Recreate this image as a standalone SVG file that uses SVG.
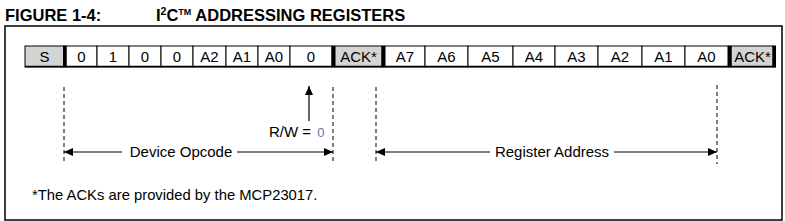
<svg xmlns="http://www.w3.org/2000/svg" width="785" height="221" viewBox="0 0 785 221">
<style>
text{font-family:"Liberation Sans",Arial,sans-serif;fill:#000}
.c{font-size:15px;text-anchor:middle}
.cell{fill:#fff;stroke:#000;stroke-width:1}
.sh{fill:#d4d4d4;stroke:#000;stroke-width:1}
.thick{fill:#000}
.dash{stroke:#000;stroke-width:1;stroke-dasharray:4 3;fill:none}
.ln{stroke:#000;stroke-width:1.2;fill:none}
.lbl{font-size:15px}
.tt{font-size:16.5px;font-weight:bold}
</style>
<defs>
<marker id="ah" markerWidth="9" markerHeight="8" refX="9" refY="4" orient="auto-start-reverse" markerUnits="userSpaceOnUse">
<path d="M0,0 L9,4 L0,8 Z" fill="#000"/>
</marker>
</defs>
<rect width="785" height="221" fill="#fff"/>
<g id="title">
<text x="5" y="21" class="tt">FIGURE 1-4:</text>
<text x="156" y="21" class="tt">I<tspan dy="-6" style="font-size:10.5px">2</tspan><tspan dy="6">C</tspan><tspan dy="-6" style="font-size:9px">TM</tspan><tspan dy="6"> ADDRESSING REGISTERS</tspan></text>
</g>
<rect id="frame" x="5" y="26" width="777" height="194" fill="none" stroke="#000" stroke-width="1.5"/>
<g id="register">
<g id="cell-S"><rect class="sh" x="25" y="46" width="39" height="21"/><text class="c" x="44.5" y="62">S</text></g>
<g id="cell-b7"><rect class="cell" x="66" y="46" width="31" height="21"/><text class="c" x="81.5" y="62">0</text></g>
<g id="cell-b6"><rect class="cell" x="97" y="46" width="32" height="21"/><text class="c" x="113" y="62">1</text></g>
<g id="cell-b5"><rect class="cell" x="129" y="46" width="32" height="21"/><text class="c" x="145" y="62">0</text></g>
<g id="cell-b4"><rect class="cell" x="161" y="46" width="32" height="21"/><text class="c" x="177" y="62">0</text></g>
<g id="cell-dA2"><rect class="cell" x="193" y="46" width="33" height="21"/><text class="c" x="209.5" y="62">A2</text></g>
<g id="cell-dA1"><rect class="cell" x="226" y="46" width="32" height="21"/><text class="c" x="242" y="62">A1</text></g>
<g id="cell-dA0"><rect class="cell" x="258" y="46" width="32" height="21"/><text class="c" x="274" y="62">A0</text></g>
<g id="cell-rw"><rect class="cell" x="290" y="46" width="42" height="21"/><text class="c" x="311" y="62">0</text></g>
<g id="cell-ack1"><rect class="sh" x="335" y="46" width="47" height="21"/><text class="c" x="358.5" y="62">ACK*</text></g>
<g id="cell-A7"><rect class="cell" x="385" y="46" width="40" height="21"/><text class="c" x="405" y="62">A7</text></g>
<g id="cell-A6"><rect class="cell" x="425" y="46" width="43" height="21"/><text class="c" x="446.5" y="62">A6</text></g>
<g id="cell-A5"><rect class="cell" x="468" y="46" width="45" height="21"/><text class="c" x="490.5" y="62">A5</text></g>
<g id="cell-A4"><rect class="cell" x="513" y="46" width="42" height="21"/><text class="c" x="534" y="62">A4</text></g>
<g id="cell-A3"><rect class="cell" x="555" y="46" width="43" height="21"/><text class="c" x="576.5" y="62">A3</text></g>
<g id="cell-A2"><rect class="cell" x="598" y="46" width="44" height="21"/><text class="c" x="620" y="62">A2</text></g>
<g id="cell-A1"><rect class="cell" x="642" y="46" width="43" height="21"/><text class="c" x="663.5" y="62">A1</text></g>
<g id="cell-A0"><rect class="cell" x="685" y="46" width="43" height="21"/><text class="c" x="706.5" y="62">A0</text></g>
<g id="cell-ack2"><rect class="sh" x="731" y="46" width="42" height="21"/><text class="c" x="752.5" y="62">ACK*</text></g>
<rect class="thick" x="63" y="45.5" width="3.5" height="22"/>
<rect class="thick" x="331.5" y="45.5" width="3.5" height="22"/>
<rect class="thick" x="381.5" y="45.5" width="3.5" height="22"/>
<rect class="thick" x="728" y="45.5" width="3.5" height="22"/>
<rect class="thick" x="772.5" y="45.5" width="3.5" height="22"/>
<line x1="25" y1="66.5" x2="776" y2="66.5" stroke="#000" stroke-width="1.5"/>
</g>
<g id="connectors">
<line class="dash" x1="64" y1="87" x2="64" y2="164"/>
<line class="dash" x1="333" y1="87" x2="333" y2="164"/>
<line class="dash" x1="376" y1="87" x2="376" y2="164"/>
<line class="dash" x1="717" y1="85" x2="717" y2="164"/>
<line class="ln" x1="122" y1="152" x2="64" y2="152" marker-end="url(#ah)"/>
<line class="ln" x1="237" y1="152" x2="333" y2="152" marker-end="url(#ah)"/>
<line class="ln" x1="490" y1="152" x2="376" y2="152" marker-end="url(#ah)"/>
<line class="ln" x1="614" y1="152" x2="717" y2="152" marker-end="url(#ah)"/>
<line class="ln" x1="309" y1="121" x2="309" y2="86" marker-end="url(#ah)"/>
</g>
<g id="labels">
<text class="lbl" x="181" y="157" text-anchor="middle">Device Opcode</text>
<text class="lbl" x="552" y="157" text-anchor="middle">Register Address</text>
<text class="lbl" x="269" y="137">R/W = <tspan style="fill:#7070a8;font-size:13px" dx="2">0</tspan></text>
<text x="32" y="200" style="font-size:14.8px">*The ACKs are provided by the MCP23017.</text>
</g>
</svg>
